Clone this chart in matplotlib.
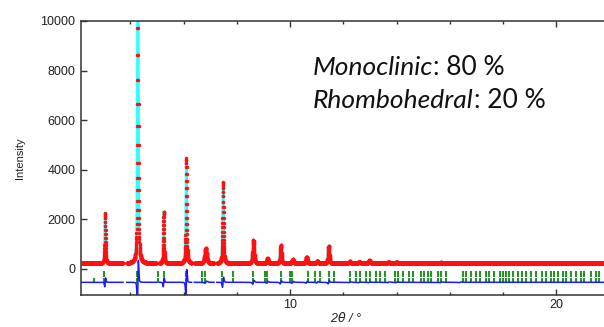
import numpy as np
import matplotlib
matplotlib.use("Agg")
import matplotlib.pyplot as plt
from matplotlib.ticker import MultipleLocator

plt.rcParams['font.family'] = ['Liberation Sans', 'DejaVu Sans']

# peaks (2theta / deg, absolute intensity at top, fwhm)
peak_pos = [3.05, 4.28, 5.25, 6.10, 6.83, 7.48, 8.62, 9.15, 9.65, 10.10,
            10.62, 11.02, 11.45, 12.24, 12.60, 12.98, 13.70, 14.00, 15.67, 16.40]
peak_top = [2250, 15000, 2300, 4450, 830, 3500, 1150, 420, 960, 380,
            480, 320, 930, 300, 290, 340, 280, 270, 260, 250]
peak_fwhm = [0.04, 0.045, 0.04, 0.045, 0.09, 0.05, 0.07, 0.07, 0.06, 0.07,
             0.07, 0.07, 0.06, 0.08, 0.08, 0.08, 0.08, 0.08, 0.09, 0.09]
# wiggle of the difference curve at each peak
diff_amp = [120, 650, 120, 380, 60, 160, 80, 40, 60, 40,
            40, 30, 60, 20, 20, 20, 20, 20, 20, 20]
background = 220
diff_offset = -540

# regions left out of the fit
excluded = [(3.72, 3.86), (4.98, 5.08), (6.30, 6.40), (7.14, 7.24)]

# reflection markers
mono_pos = [3.00, 4.25, 5.04, 5.25, 6.09, 6.68, 6.80, 7.45, 7.87, 8.62,
            9.06, 9.15, 9.65, 10.00, 10.06, 10.68, 10.93, 11.12, 11.45, 11.65,
            12.24, 12.49, 12.62, 12.87, 13.00, 13.24, 13.37, 13.56, 13.94, 14.06,
            14.25, 14.47, 14.61, 14.92, 15.05, 15.18, 15.30, 15.55, 15.68, 15.86,
            16.49, 16.62, 16.80, 16.99, 17.12, 17.37, 17.49, 17.68, 17.87, 18.00,
            18.11, 18.23, 18.36, 18.55, 18.73, 18.86, 19.05, 19.24, 19.48, 19.61,
            19.80, 19.92, 20.05, 20.24, 20.37, 20.55, 20.74, 20.93, 21.05, 21.30,
            21.49, 21.62]
rhombo_pos = [2.62] + mono_pos


def pv(x, c, w, eta=0.45):
    d = (x - c) / w
    return eta / (1 + 4 * d**2) + (1 - eta) * np.exp(-4 * np.log(2) * d**2)


tt = np.arange(2.1, 22.6, 0.0025)
calc = np.full_like(tt, background, dtype=float)
diff = np.full_like(tt, diff_offset, dtype=float)
for p, h, w, a in zip(peak_pos, peak_top, peak_fwhm, diff_amp):
    calc += (h - background) * pv(tt, p, w)
    diff += a * 2.2 * (pv(tt, p + 0.012, w) - pv(tt, p - 0.012, w))

for lo, hi in excluded:
    m = (tt > lo) & (tt < hi)
    calc[m] = np.nan
    diff[m] = np.nan

fig = plt.figure(figsize=(6.04, 3.27), dpi=100)
ax = fig.add_axes([0.134, 0.098, 0.897, 0.838])

ax.plot(tt, calc, color='#33ffff', lw=1.8, zorder=2)
ax.plot(tt, calc, ls='none', marker='o', ms=2.5, mew=0, color='#ff1010', zorder=3)
ax.plot(tt, diff, color='#1a1aff', lw=1.1, zorder=2)
ax.vlines(mono_pos, -310, -100, color='#2a922a', lw=1.5, zorder=1)
ax.vlines(rhombo_pos, -570, -380, color='#2a922a', lw=1.5, zorder=1)

ax.set_xlim(2.14, 22.5)
ax.set_ylim(-1050, 10000)
ax.xaxis.set_major_locator(MultipleLocator(10))
ax.xaxis.set_minor_locator(MultipleLocator(2))
ax.yaxis.set_major_locator(MultipleLocator(2000))

for s in ax.spines.values():
    s.set_linewidth(1.1)
    s.set_color('#333333')
ax.spines['right'].set_visible(False)

ax.tick_params(axis='x', which='major', direction='in', top=True, length=4,
               width=1, colors='#333333', labelsize=9, pad=3)
ax.tick_params(axis='x', which='minor', direction='in', top=True, length=2.5,
               width=1, colors='#333333')
ax.tick_params(axis='y', direction='in', length=4.5, width=1, colors='#333333',
               labelsize=9, pad=4)
ax.tick_params(labelcolor='#222222')

fig.text(20 / 604, 1 - 158 / 327, 'Intensity', rotation=90, ha='center',
         va='center', fontsize=8, color='#222222')
fig.text(346 / 604, 1 - 318 / 327, r'2$\theta$ / °', ha='center', va='center',
         fontsize=9, color='#222222', style='italic')

# phase fractions: italic name followed by upright value
fs = 19
t1 = fig.text(313 / 604, 1 - 75 / 327, 'Monoclinic', family='Lato',
              style='italic', fontsize=fs, color='#111111', va='baseline')
t2 = fig.text(313 / 604, 1 - 108 / 327, 'Rhombohedral', family='Lato',
              style='italic', fontsize=fs, color='#111111', va='baseline')

fig.canvas.draw()
r = fig.canvas.get_renderer()
for t, rest in [(t1, ': 80 %'), (t2, ': 20 %')]:
    bb = t.get_window_extent(r)
    fig.text(bb.x1 / fig.bbox.width, t.get_position()[1], rest, family='Lato',
             fontsize=fs, color='#111111', va='baseline')

fig.savefig('out.png', dpi=100)
